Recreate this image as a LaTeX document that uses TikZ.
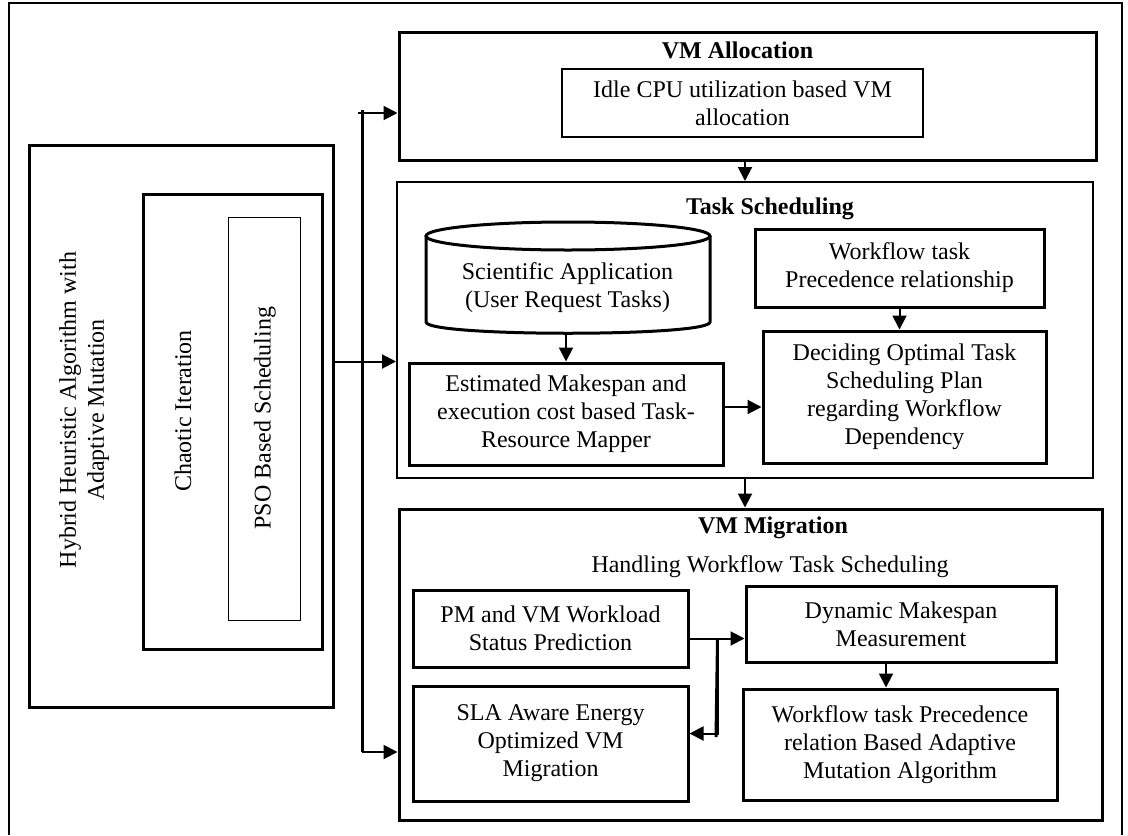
\documentclass[tikz,border=0pt]{standalone}
\usepackage{fontspec}
\setmainfont{Liberation Serif}
\usetikzlibrary{arrows.meta}

\tikzset{
  caja/.style={draw, line width=1.5pt, align=center, inner sep=1pt},
  fina/.style={draw, line width=1pt, align=center, inner sep=1pt},
  flecha/.style={line width=1pt, -{Triangle[length=7pt,width=7pt]}},
  titulo/.style={font=\fontsize{12}{14}\selectfont\bfseries},
}

\begin{document}
\begin{tikzpicture}[x=0.5pt, y=-0.5pt, every node/.style={font=\fontsize{12}{14}\selectfont}]
	\useasboundingbox (0,0) rectangle (1128,835);

	% Marco
	\draw [line width=1pt] (9,835) |- (1122,3) -- (1122,835);

	% Algoritmo hibrido
	\node [caja, minimum width=152pt, minimum height=281pt] (hyb) at (181,426) {};
	\node [caja, minimum width=89.5pt, minimum height=227.5pt] (chaos) at (232.5,421.5) {};
	\node [draw, line width=0.5pt, minimum width=36pt, minimum height=201.5pt] (pso) at (264,418.5) {};
	\node [rotate=90, align=center] (hybT) at (84,410) {Hybrid Heuristic Algorithm with\\Adaptive Mutation};
	\node [rotate=90] (chaosT) at (183,411) {Chaotic Iteration};
	\node [rotate=90] (psoT) at (265,418) {PSO Based Scheduling};

	% VM Allocation
	\node [caja, minimum width=348.5pt, minimum height=64pt] (alloc) at (747.5,96) {};
	\node [titulo] (allocT) at (737.5,50) {VM Allocation};
	\node [fina, minimum width=180.5pt, minimum height=34pt] (idle) at (742.5,103) {Idle CPU utilization based VM\\allocation};

	% Task Scheduling
	\node [fina, minimum width=348pt, minimum height=148pt] (task) at (745,330) {};
	\node [titulo] (taskT) at (770,209) {Task Scheduling};
	\draw [line width=1.5pt] (426,236) -- (426,322) .. controls (426,337) and (710,337) .. (710,322) -- (710,236);
	\draw [line width=1.5pt] (568,236) ellipse [x radius=142, y radius=14];
	\node [align=center] (sci) at (567.5,288) {Scientific Application\\(User Request Tasks)};
	\coordinate (sciB) at (566,333);
	\node [caja, minimum width=144.5pt, minimum height=39pt] (prec) at (899.5,268) {Workflow task\\Precedence relationship};
	\node [caja, minimum width=157pt, minimum height=51pt] (est) at (566,414) {Estimated Makespan and\\execution cost based Task-\\Resource Mapper};
	\node [caja, minimum width=141.5pt, minimum height=66pt] (dec) at (904.5,397) {Deciding Optimal Task\\Scheduling Plan\\regarding Workflow\\Dependency};

	\draw [flecha] (sciB) -- (est.north);
	\draw [flecha] (prec.south) -- (prec.south |- dec.north);
	\draw [flecha] ([yshift=3.5pt]est.east) -- ([yshift=3.5pt]est.east -| dec.west);

	% VM Migration
	\node [caja, minimum width=351.5pt, minimum height=155.5pt] (mig) at (750.5,664.5) {};
	\node [titulo] (migT) at (773,528) {VM Migration};
	\node (handT) at (770,567) {Handling Workflow Task Scheduling};
	\node [caja, minimum width=137.5pt, minimum height=38.5pt] (pm) at (550.5,628.5) {PM and VM Workload\\Status Prediction};
	\node [caja, minimum width=137.5pt, minimum height=57.5pt] (sla) at (550.5,743.5) {SLA Aware Energy\\Optimized VM\\Migration};
	\node [caja, minimum width=155pt, minimum height=38pt] (dyn) at (901,624) {Dynamic Makespan\\Measurement};
	\node [caja, minimum width=157pt, minimum height=55.5pt] (adapt) at (900,744.5) {Workflow task Precedence\\relation Based Adaptive\\Mutation Algorithm};

	\coordinate (split) at ([xshift=14pt,yshift=-5pt]pm.east);
	\draw [flecha] ([yshift=-5pt]pm.east) -- ([yshift=-5pt]pm.east -| dyn.west);
	\draw [line width=1.5pt] (split) -- (716,737);
	\draw [flecha] (split) |- ([yshift=5pt]sla.east);
	\draw [flecha] ([xshift=-7.5pt]dyn.south) -- ([xshift=-7.5pt]dyn.south |- adapt.north);

	% Enlaces entre bloques
	\draw [flecha] (task.north |- alloc.south) -- (task.north);
	\draw [flecha] (task.south) -- (task.south |- mig.north);

	% Bus
	\coordinate (busT) at (362,110);
	\coordinate (busB) at (362,752);
	\draw [line width=1.5pt] (busT) -- (busB);
	\draw [flecha] (358,113) -- (alloc.west |- 358,113);
	\draw [flecha] (busB) -- (busB -| mig.west);
	\draw [flecha] (hyb.east |- est.north) -- (task.west |- est.north);
\end{tikzpicture}
\end{document}
